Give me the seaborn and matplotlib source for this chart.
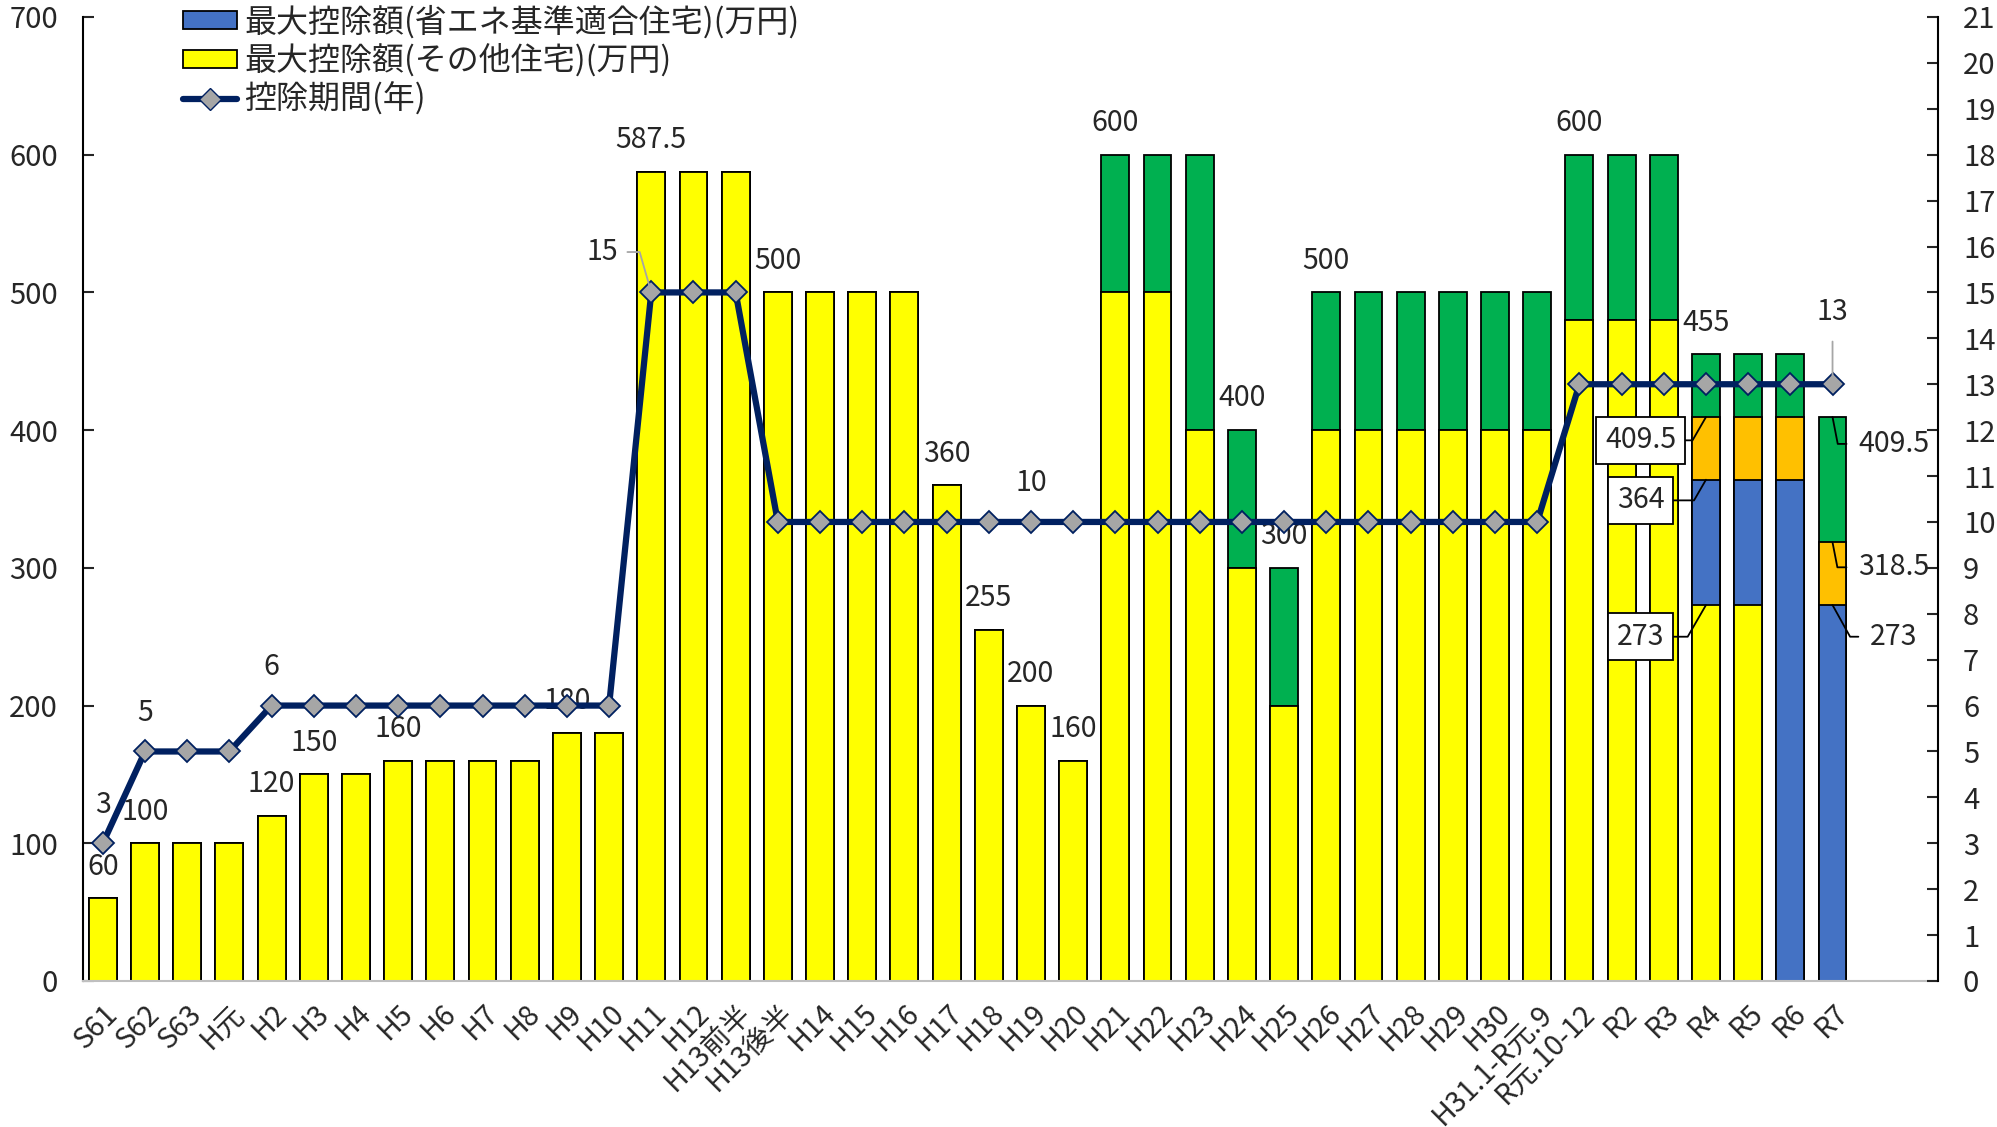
import numpy as np
import matplotlib
matplotlib.use("Agg")
import matplotlib.pyplot as plt
import seaborn as sns
from matplotlib.patches import Patch
from matplotlib.lines import Line2D

# ---------------- data ----------------
categories = ["S61", "S62", "S63", "H元", "H2", "H3", "H4", "H5", "H6", "H7", "H8",
              "H9", "H10", "H11", "H12", "H13前半", "H13後半", "H14", "H15", "H16",
              "H17", "H18", "H19", "H20", "H21", "H22", "H23", "H24", "H25", "H26",
              "H27", "H28", "H29", "H30", "H31.1-R元.9", "R元.10-12", "R2", "R3",
              "R4", "R5", "R6", "R7"]
# 最大控除額（その他住宅）
other_house = [60, 100, 100, 100, 120, 150, 150, 160, 160, 160, 160, 180, 180,
               587.5, 587.5, 587.5, 500, 500, 500, 500, 360, 255, 200, 160,
               500, 500, 400, 300, 200, 400, 400, 400, 400, 400,
               400, 480, 480, 480, 273, 273, 0, 0]
# 最大控除額（省エネ基準適合住宅） increment
energy_house = [0, 0, 0, 0, 0, 0, 0, 0, 0, 0, 0, 0, 0, 0, 0, 0, 0, 0, 0, 0, 0,
                0, 0, 0, 0, 0, 0, 0, 0, 0, 0, 0, 0, 0, 0, 0, 0, 0,
                91, 91, 364, 273]
# ZEH水準 increment
zeh_house = [0, 0, 0, 0, 0, 0, 0, 0, 0, 0, 0, 0, 0, 0, 0, 0, 0, 0, 0, 0, 0,
             0, 0, 0, 0, 0, 0, 0, 0, 0, 0, 0, 0, 0, 0, 0, 0, 0,
             45.5, 45.5, 45.5, 45.5]
# 認定住宅 increment
certified_house = [0, 0, 0, 0, 0, 0, 0, 0, 0, 0, 0, 0, 0, 0, 0, 0, 0, 0, 0, 0, 0,
                   0, 0, 0, 100, 100, 200, 100, 100, 100, 100, 100, 100, 100,
                   100, 120, 120, 120, 45.5, 45.5, 45.5, 91]
# 控除期間（年）
years = [3, 5, 5, 5, 6, 6, 6, 6, 6, 6, 6, 6, 6, 15, 15, 15, 10, 10, 10, 10, 10,
         10, 10, 10, 10, 10, 10, 10, 10, 10, 10, 10, 10, 10, 10, 13, 13, 13, 13,
         13, 13, 13]

total_label_idx = [0, 1, 4, 5, 7, 11, 13, 16, 20, 21, 22, 23, 24, 27, 28, 29, 35, 38]
year_label_idx = [0, 1, 4, 22]

legend_labels = ["最大控除額(省エネ基準適合住宅)(万円)", "最大控除額(その他住宅)(万円)", "控除期間(年)"]

# ---------------- style ----------------
sns.set_style("white")
plt.rcParams["font.family"] = ["Noto Sans CJK JP", "DejaVu Sans"]
FS = 20.5
YELLOW, BLUE, ORANGE, GREEN = "#FFFF00", "#4472C4", "#FFC000", "#00B050"
NAVY = "#002060"
GRAY_MK = "#A6A6A6"

W, H = 1997, 1127
fig = plt.figure(figsize=(W / 100, H / 100), dpi=100)
L, R, T, B = 83, 1938, 17, 981
ax = fig.add_axes([L / W, 1 - B / H, (R - L) / W, (B - T) / H])

n = len(categories)
yel = np.array(other_house, float)
blu = yel + np.array(energy_house, float)
ora = blu + np.array(zeh_house, float)
grn = ora + np.array(certified_house, float)

for vals, col in [(grn, GREEN), (ora, ORANGE), (blu, BLUE), (yel, YELLOW)]:
    sns.barplot(x=categories, y=vals, color=col, saturation=1, width=0.66,
                edgecolor="black", linewidth=1.3, ax=ax)

ax.set_ylim(0, 700)
ax.set_yticks(range(0, 701, 100))
ax.set_xlim(-0.47, 43.5)
ax.set_xticks(range(n))
ax.set_xticklabels(categories, rotation=45, ha="right", va="top",
                   rotation_mode="anchor", fontsize=FS)
ax.tick_params(axis="x", length=0, pad=13)
ax.tick_params(axis="y", direction="in", length=8, width=1.5, pad=18, labelsize=FS + 0.5)
ax.set_xlabel("")
ax.set_ylabel("")
for s in ["top", "right"]:
    ax.spines[s].set_visible(False)
ax.spines["left"].set_color("black")
ax.spines["left"].set_linewidth(1.5)
ax.spines["bottom"].set_color("#BFBFBF")
ax.spines["bottom"].set_linewidth(1.5)

# total labels
for i in total_label_idx:
    ax.text(i, grn[i] + 23, f"{grn[i]:g}", ha="center", va="center", fontsize=FS)

# boxed labels on R4
box = dict(boxstyle="square,pad=0.3", fc="white", ec="black", lw=1.3)
for v, ty in [(ora[38], 392.6), (blu[38], 349), (yel[38], 250)]:
    ax.annotate(f"{v:g}", xy=(38, v), xytext=(36.45, ty), ha="center", va="center",
                fontsize=FS, bbox=box,
                arrowprops=dict(arrowstyle="-", color="black", lw=1.3, shrinkA=0, shrinkB=0,
                                connectionstyle="angle,angleA=0,angleB=60,rad=0"))
# labels for R7
for v, ty, ang in [(grn[41], 390, -79), (ora[41], 300.4, -79), (blu[41], 250, -61)]:
    ax.annotate(f"{v:g}", xy=(41, v), xytext=(42.45, ty), ha="center", va="center",
                fontsize=FS,
                arrowprops=dict(arrowstyle="-", color="black", lw=1.3, shrinkA=6, shrinkB=0,
                                connectionstyle=f"angle,angleA=0,angleB={ang},rad=0"))

# ---------------- line on secondary axis ----------------
ax2 = ax.twinx()
sns.lineplot(x=np.arange(n), y=years, ax=ax2, color=NAVY, linewidth=4.5,
             marker="D", markersize=11, markerfacecolor=GRAY_MK,
             markeredgecolor=NAVY, markeredgewidth=1.3)
ax2.set_ylim(0, 21)
ax2.set_yticks(range(0, 22))
ax2.tick_params(axis="y", direction="in", length=8, width=1.5, pad=18, labelsize=FS + 0.5)
ax2.set_ylabel("")
for s in ["top", "left", "bottom"]:
    ax2.spines[s].set_visible(False)
ax2.spines["right"].set_color("black")
ax2.spines["right"].set_linewidth(1.5)
ax2.set_xlim(-0.47, 43.5)

for i in year_label_idx:
    ax2.text(i, years[i] + 0.84, f"{years[i]}", ha="center", va="center", fontsize=FS)
ax2.annotate(f"{years[13]}", xy=(13, years[13]), xytext=(11.85, 15.88), ha="center",
             va="center", fontsize=FS,
             arrowprops=dict(arrowstyle="-", color="#A6A6A6", lw=1.3, shrinkA=4, shrinkB=5,
                             connectionstyle="angle,angleA=0,angleB=106,rad=0"))
ax2.annotate(f"{years[41]}", xy=(41, years[41]), xytext=(41, 14.57), ha="center",
             va="center", fontsize=FS,
             arrowprops=dict(arrowstyle="-", color="#A6A6A6", lw=1.3, shrinkA=8, shrinkB=6))

# ---------------- legend ----------------
handles = [Patch(facecolor=BLUE, edgecolor="black", lw=1.3),
           Patch(facecolor=YELLOW, edgecolor="black", lw=1.3),
           Line2D([], [], color=NAVY, lw=4.5, marker="D", markersize=11,
                  markerfacecolor=GRAY_MK, markeredgecolor=NAVY)]
fig.legend(handles, legend_labels, loc="upper left", bbox_to_anchor=(183 / W, 1 - 5 / H),
           frameon=False, fontsize=23, borderpad=0, borderaxespad=0,
           handlelength=1.7, handleheight=0.5, handletextpad=0.22, labelspacing=0.17)

fig.savefig("out.png", dpi=100)
